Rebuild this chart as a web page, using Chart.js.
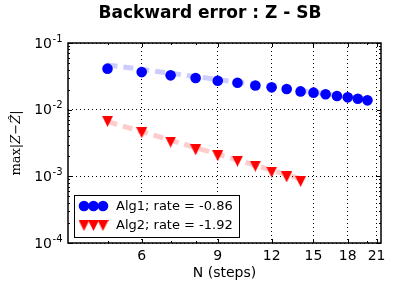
<!DOCTYPE html>
<html>
<head>
<meta charset="utf-8">
<script src="https://cdn.jsdelivr.net/npm/chart.js@4.4.1/dist/chart.umd.min.js"></script>
<style>
  html, body { margin: 0; padding: 0; background: #fff; }
</style>
</head>
<body>
<canvas id="chart" width="417" height="292"></canvas>
<script>
// values
const nAlg1 = [5, 6, 7, 8, 9, 10, 11, 12, 13, 14, 15, 16, 17, 18, 19, 20];
const errAlg1 = [0.0412, 0.0366, 0.0327, 0.0298, 0.0272, 0.0254, 0.0230, 0.0216,
                 0.0204, 0.0188, 0.0180, 0.0170, 0.0160, 0.0153, 0.0146, 0.0138];
const nAlg2 = [5, 6, 7, 8, 9, 10, 11, 12, 13, 14];
const errAlg2 = [0.00668, 0.00452, 0.00327, 0.00250, 0.00204, 0.00169, 0.00142,
                 0.00116, 0.00098, 0.00084];

// fitted rate lines (end points)
const fitN1 = [5, 20];
const fitAlg1 = [0.047, 0.01425];
const fitN2 = [5, 14];
const fitAlg2 = [0.00664, 0.00092];

const titleText = 'Backward error : Z - SB';
const labelAlg1 = 'Alg1; rate = -0.86';
const labelAlg2 = 'Alg2; rate = -1.92';

const xMajor = [6, 9, 12, 15, 18, 21];
const xMinor = [5, 7, 8, 20];
const yMajor = [1e-4, 1e-3, 1e-2, 1e-1];
const yTickExp = ['-4', '-3', '-2', '-1'];

const toPoints = (xs, ys) => xs.map((x, i) => ({ x: x, y: ys[i] }));

function triangleDown(size, color) {
    const c = document.createElement('canvas');
    c.width = size;
    c.height = size;
    const g = c.getContext('2d');
    g.fillStyle = color;
    g.beginPath();
    g.moveTo(0, 0);
    g.lineTo(size, 0);
    g.lineTo(size / 2, size);
    g.closePath();
    g.fill();
    return c;
}
const redTri = triangleDown(11, '#ff0000');

// minor y ticks 2..9 x 10^k
const yMinor = [];
for (let k = -4; k < -1; k++) {
    for (let m = 2; m <= 9; m++) yMinor.push(m * Math.pow(10, k));
}

const isMajor = (list, v) => list.some(t => Math.abs(t - v) / t < 1e-6);

const framePlugin = {
    id: 'frame',
    afterDraw(chart) {
        const { ctx, chartArea: a, scales } = chart;
        ctx.save();
        ctx.strokeStyle = '#000';
        ctx.lineWidth = 1;
        // inward ticks
        ctx.beginPath();
        xMajor.concat(xMinor).forEach(v => {
            const px = Math.round(scales.x.getPixelForValue(v)) + 0.5;
            const len = isMajor(xMajor, v) ? 4 : 2;
            ctx.moveTo(px, a.bottom); ctx.lineTo(px, a.bottom - len);
            ctx.moveTo(px, a.top); ctx.lineTo(px, a.top + len);
        });
        yMajor.concat(yMinor).forEach(v => {
            const py = Math.round(scales.y.getPixelForValue(v)) + 0.5;
            const len = isMajor(yMajor, v) ? 4 : 2;
            ctx.moveTo(a.left, py); ctx.lineTo(a.left + len, py);
            ctx.moveTo(a.right, py); ctx.lineTo(a.right - len, py);
        });
        ctx.stroke();
        // axes frame
        ctx.lineWidth = 1.5;
        ctx.strokeRect(a.left, a.top, a.right - a.left, a.bottom - a.top);

        // title
        ctx.fillStyle = '#000';
        ctx.textAlign = 'center';
        ctx.textBaseline = 'middle';
        ctx.font = 'bold 17px "DejaVu Sans"';
        ctx.fillText(titleText, 210, 14);

        // y tick labels 10^k
        ctx.textAlign = 'left';
        yMajor.forEach((v, i) => {
            const py = scales.y.getPixelForValue(v);
            ctx.font = '10px "DejaVu Sans"';
            const ew = ctx.measureText(yTickExp[i]).width;
            ctx.font = '14px "DejaVu Sans"';
            const bw = ctx.measureText('10').width;
            const x0 = 62 - ew - bw;
            ctx.fillText('10', x0, py + 1);
            ctx.font = '10px "DejaVu Sans"';
            ctx.fillText(yTickExp[i], x0 + bw + 0.5, py - 4);
        });
        ctx.restore();

        // y axis label  max|Z - Z^|
        ctx.save();
        ctx.translate(17, (a.top + a.bottom) / 2);
        ctx.rotate(-Math.PI / 2);
        ctx.fillStyle = '#000';
        ctx.textBaseline = 'middle';
        const parts = [
            ['max', 'normal'], ['|', 'normal'], ['Z', 'italic'],
            ['\u2212', 'normal'], ['\u1E90', 'italic'], ['|', 'normal']
        ];
        let total = 0;
        parts.forEach(p => {
            ctx.font = p[1] + ' 13px "DejaVu Serif"';
            total += ctx.measureText(p[0]).width;
        });
        let x = -total / 2;
        parts.forEach(p => {
            ctx.font = p[1] + ' 13px "DejaVu Serif"';
            ctx.fillText(p[0], x, 0);
            x += ctx.measureText(p[0]).width;
        });
        ctx.restore();

        // legend
        ctx.save();
        const bx = 74.5, by = 195.5, bw = 165, bh = 42;
        ctx.fillStyle = '#fff';
        ctx.fillRect(bx, by, bw, bh);
        ctx.strokeStyle = '#000';
        ctx.lineWidth = 1;
        ctx.strokeRect(bx, by, bw, bh);
        const rows = [
            { label: labelAlg1, y: 206, kind: 'circle' },
            { label: labelAlg2, y: 225.5, kind: 'tri' }
        ];
        ctx.font = '13px "DejaVu Sans"';
        ctx.textBaseline = 'middle';
        rows.forEach(r => {
            [84, 93.5, 103].forEach(mx => {
                if (r.kind === 'circle') {
                    ctx.fillStyle = '#0000ff';
                    ctx.beginPath();
                    ctx.arc(mx, r.y, 5.3, 0, Math.PI * 2);
                    ctx.fill();
                } else {
                    ctx.drawImage(redTri, mx - 5.5, r.y - 5.5);
                }
            });
            ctx.fillStyle = '#000';
            ctx.fillText(r.label, 116, r.y + 0.5);
        });
        ctx.restore();
    }
};

const tickFont = { family: '"DejaVu Sans"', size: 14 };

new Chart(document.getElementById('chart').getContext('2d'), {
    type: 'scatter',
    data: {
        datasets: [
            {
                label: labelAlg1,
                data: toPoints(nAlg1, errAlg1),
                pointStyle: 'circle',
                pointRadius: 5.3,
                backgroundColor: '#0000ff',
                borderColor: '#0000ff',
                borderWidth: 0,
                order: 0
            },
            {
                label: labelAlg2,
                data: toPoints(nAlg2, errAlg2),
                pointStyle: redTri,
                pointRadius: 5.5,
                backgroundColor: '#ff0000',
                order: 0
            },
            {
                label: 'fit1',
                data: toPoints(fitN1, fitAlg1),
                showLine: true,
                pointRadius: 0,
                borderColor: 'rgba(0,0,255,0.2)',
                borderWidth: 5,
                borderDash: [10, 6],
                order: 1
            },
            {
                label: 'fit2',
                data: toPoints(fitN2, fitAlg2),
                showLine: true,
                pointRadius: 0,
                borderColor: 'rgba(255,0,0,0.2)',
                borderWidth: 5,
                borderDash: [10, 6],
                order: 1
            }
        ]
    },
    options: {
        responsive: false,
        animation: false,
        devicePixelRatio: 1,
        layout: { padding: { left: 0, right: 36, top: 43, bottom: 0 } },
        plugins: {
            legend: { display: false },
            tooltip: { enabled: false },
            title: { display: false }
        },
        scales: {
            x: {
                type: 'logarithmic',
                min: 4.05,
                max: 21.5,
                afterBuildTicks: s => { s.ticks = xMajor.concat(xMinor).sort((a, b) => a - b).map(v => ({ value: v })); },
                afterFit: s => { s.height = 49; },
                ticks: {
                    autoSkip: false,
                    maxRotation: 0,
                    padding: 5,
                    color: '#000',
                    font: tickFont,
                    callback: v => isMajor(xMajor, v) ? String(v) : ''
                },
                grid: {
                    drawTicks: false,
                    lineWidth: 1,
                    color: c => (c.tick && isMajor(xMajor, c.tick.value)) ? '#000' : 'rgba(0,0,0,0)'
                },
                border: { display: false, dash: [1, 3] },
                title: {
                    display: true,
                    text: 'N (steps)',
                    color: '#000',
                    font: tickFont,
                    padding: { top: 0, bottom: 10 }
                }
            },
            y: {
                type: 'logarithmic',
                min: 1e-4,
                max: 1e-1,
                afterBuildTicks: s => { s.ticks = yMajor.map(v => ({ value: v })); },
                afterFit: s => { s.width = 68; },
                ticks: { display: false },
                grid: {
                    drawTicks: false,
                    lineWidth: 1,
                    color: '#000'
                },
                border: { display: false, dash: [1, 3] }
            }
        }
    },
    plugins: [framePlugin]
});
</script>
</body>
</html>
